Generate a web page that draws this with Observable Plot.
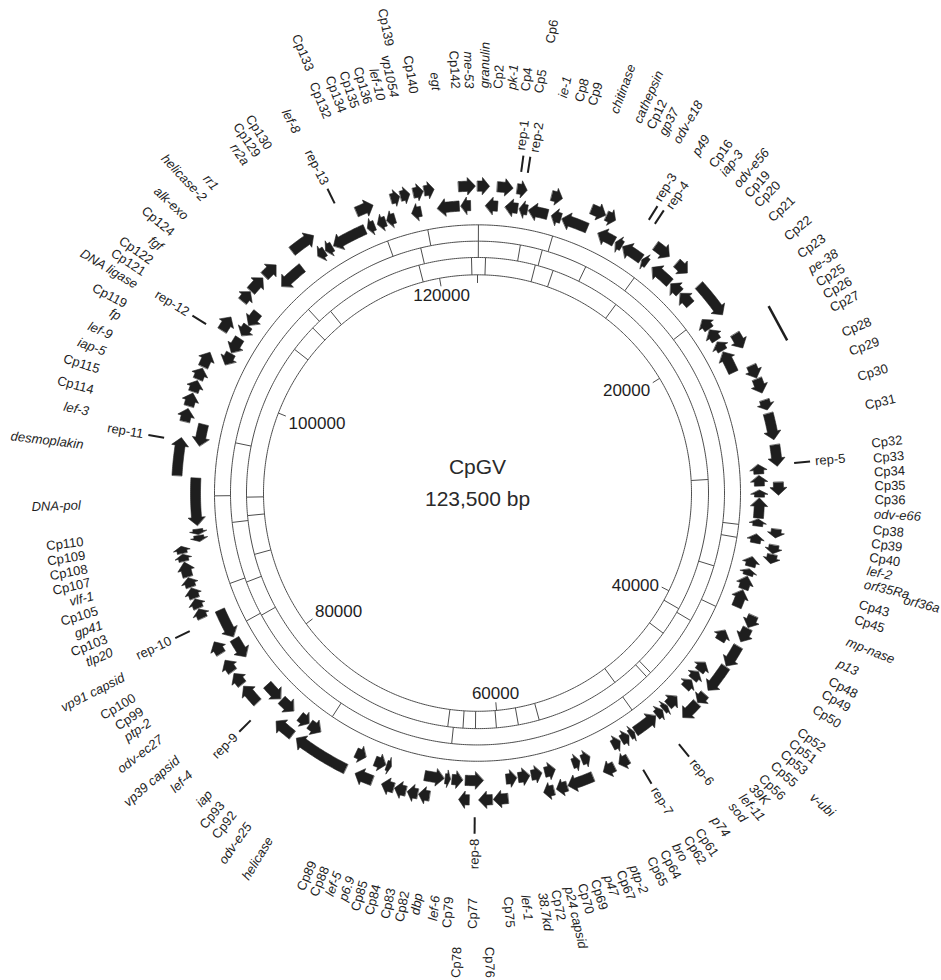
<!DOCTYPE html>
<html>
<head>
<meta charset="utf-8">
<script src="https://cdn.jsdelivr.net/npm/d3@7"></script>
<script src="https://cdn.jsdelivr.net/npm/@observablehq/plot@0.6"></script>
<style>
  body { margin: 0; background: #fff; }
  #chart svg { display: block; }
</style>
</head>
<body>
<div id="chart"></div>
<script>
// ---- Genome map data (positions in bp) ----
const genomeLength = 123500;
const centerTitle = "CpGV";
const centerSubtitle = "123,500 bp";

// [name, start, end, strand]  strand 1 = clockwise, -1 = counter-clockwise
const genes = [
  ["granulin",1,790,1], ["Cp2",549,1407,-1], ["pk-1",1304,2333,1], ["Cp4",1921,2813,-1],
  ["Cp5",2607,3259,1], ["Cp6",2916,3499,-1], ["ie-1",3568,4940,-1], ["Cp8",4906,5626,1],
  ["Cp9",5215,5901,-1], ["chitinase",5969,7856,-1], ["cathepsin",7650,8645,1], ["Cp12",8714,9366,1],
  ["gp37",8679,9949,-1], ["odv-e18",10052,10566,-1], ["p49",10635,12179,-1], ["Cp16",12247,12693,-1],
  ["iap-3",12453,13585,1], ["odv-e56",13139,14752,-1], ["Cp19",14237,15163,1], ["Cp20",14854,15712,-1],
  ["Cp21",15781,16810,-1], ["Cp22",16261,18697,1], ["Cp23",18148,18937,-1], ["pe-38",19006,19863,-1],
  ["Cp25",20000,20687,-1], ["Cp26",20172,21201,1], ["Cp27",20789,22368,-1], ["Cp28",22470,23328,1],
  ["Cp29",23397,24357,1], ["Cp30",24838,25489,1], ["Cp31",25730,27445,1], ["Cp32",27788,29160,1],
  ["Cp33",28920,29572,-1], ["Cp34",29675,30395,-1], ["Cp35",30189,31013,1], ["Cp36",30670,31150,-1],
  ["odv-e66",31218,32591,-1], ["Cp38",32659,33140,-1], ["Cp39",33208,33757,1], ["Cp40",33688,34306,-1],
  ["lef-2",34237,34787,1], ["orf35Ra",34855,35438,1], ["Cp43",36125,36570,-1], ["orf36a",35267,35953,-1],
  ["Cp45",36640,37565,-1], ["mp-nase",37633,38869,-1], ["p13",38971,39795,1], ["Cp48",39864,40824,1],
  ["Cp49",40653,41442,-1], ["Cp50",41167,42643,1], ["Cp51",42711,44598,1], ["Cp52",43260,43980,-1],
  ["Cp53",44049,44701,-1], ["v-ubi",44804,45490,-1], ["Cp55",44941,45627,1], ["Cp56",45696,47000,1],
  ["39K",46313,47171,-1], ["lef-11",47239,47617,-1], ["sod",47685,48234,-1], ["p74",48303,50087,-1],
  ["Cp61",50155,50533,-1], ["Cp62",50601,51218,-1], ["bro",51321,51939,-1], ["Cp64",51459,52145,1],
  ["Cp65",52488,53277,1], ["ptp-2",53689,54306,-1], ["Cp67",54444,54993,-1], ["p47",54032,55747,1],
  ["Cp69",55816,56536,1], ["Cp70",56262,57017,-1], ["p24 capsid",56708,57394,1], ["Cp72",57223,57977,-1],
  ["38.7kd",58080,58904,-1], ["lef-1",59006,59761,-1], ["Cp75",59761,60722,1], ["Cp76",60790,61682,1],
  ["Cp77",61339,62609,-1], ["Cp78",62300,62986,1], ["Cp79",62780,63535,-1], ["lef-6",63638,64015,-1],
  ["dbp",64084,65456,-1], ["Cp82",64907,65627,1], ["Cp83",65696,66382,1], ["Cp84",66485,67240,1],
  ["Cp85",67308,68132,1], ["p6.9",67857,68200,-1], ["lef-5",68269,69058,-1], ["Cp88",68782,69984,1],
  ["Cp89",69744,70499,-1], ["helicase",70670,74444,1], ["odv-e25",73346,74271,-1], ["Cp92",74340,75130,-1],
  ["Cp93",74787,76159,1], ["iap",75714,76845,-1], ["lef-4",76948,78286,-1], ["vp39 capsid",77875,79247,1],
  ["odv-ec27",79418,80276,1], ["ptp-2",80447,81305,1], ["Cp99",80722,82163,-1], ["Cp100",81820,82677,1],
  ["vp91 capsid",82334,84393,-1], ["tlp20",84393,85008,1], ["Cp103",85079,85696,1], ["gp41",85765,86451,1],
  ["Cp105",86520,87137,1], ["vlf-1",87206,88166,1], ["Cp107",88235,88681,1], ["Cp108",88750,89196,1],
  ["Cp109",89299,89710,-1], ["Cp110",89779,90156,-1], ["DNA-pol",90396,93655,-1], ["desmoplakin",93758,96194,1],
  ["lef-3",95851,97361,-1], ["Cp114",97258,98116,1], ["Cp115",98287,99144,1], ["iap-5",99247,100002,1],
  ["lef-9",100105,100860,1], ["fp",100963,101992,1], ["Cp119",101717,102575,-1], ["DNA ligase",102643,103775,-1],
  ["Cp121",103604,104633,1], ["Cp122",104016,104805,-1], ["fgf",104873,105937,-1], ["Cp124",105902,106692,1],
  ["alk-exo",106760,107893,1], ["helicase-2",108064,109093,1], ["rr1",108407,110328,-1], ["rr2a",110465,112181,1],
  ["Cp129",111666,112250,-1], ["Cp130",112318,112867,-1], ["lef-8",112970,115440,-1], ["Cp132",115611,116160,-1],
  ["Cp133",115371,116537,1], ["Cp134",116366,116983,-1], ["Cp135",117052,117670,-1], ["Cp136",117773,118356,1],
  ["lef-10",118424,119042,1], ["vp1054",118870,119556,-1], ["Cp139",119282,119934,1], ["Cp140",120003,120655,1],
  ["egt",120689,122233,-1], ["Cp142",122336,123022,-1], ["me-53",122267,123363,1]
];

// names whose labels sit on the second, outer label ring
const outerTierLabels = ["Cp6", "orf36a", "v-ubi", "Cp76", "Cp78", "Cp133", "Cp139"];

// repeat regions [name, position]
const repeats = [
  ["rep-1",2710], ["rep-2",3122], ["rep-3",11184], ["rep-4",11630], ["rep-5",29057],
  ["rep-6",48269], ["rep-7",50979], ["rep-8",61922], ["rep-9",77360], ["rep-10",83981],
  ["rep-11",95988], ["rep-12",103398], ["rep-13",114342]
];

// an unlabelled marked stretch [start, end]
const markedRegion = [19830, 22020];

// block boundaries in the three comparison bands (inner, middle, outer)
const band1Breaks = [686, 4974, 6553, 12625, 29743, 40961, 43397, 49230, 56433, 58252, 60138,
  61922, 62986, 64290, 87446, 90739, 92283, 105525, 107892, 109951, 118459, 122987];
const band2Breaks = [69, 3431, 5215, 8920, 36639, 41304, 46485, 46931, 63809, 82677, 85525,
  90328, 96571, 108681, 118939];
const band3Breaks = [69, 5695, 12556, 18011, 33174, 34134, 39452, 49401, 73243, 82849, 85868,
  92420, 116640, 119761];

const tickValues = [0, 20000, 40000, 60000, 80000, 100000, 120000];
const tickLabels = ["", "20000", "40000", "60000", "80000", "100000", "120000"];

// ---- Geometry ----
const W = 941, H = 980;
const xDomain = [-477, 464], yDomain = [-483, 478];
const ringRadii = [214, 231, 247, 263];
const trackRadius = {1: 301, "-1": 282};
const labelRadius = {1: 397, 2: 447};
const repInner = 318, repOuter = 334, repLabelR = 339;
const labelSize = 13;
const font = "'Liberation Sans', Arial, Helvetica, sans-serif";

const rad = d => d * Math.PI / 180;
const angleOf = bp => bp / genomeLength * 360;
const px = (r, a) => r * Math.sin(rad(a));
const py = (r, a) => -r * Math.cos(rad(a));
const norm = a => ((a % 360) + 360) % 360;

// text measuring, used to keep radial labels inside the frame
const measureCtx = document.createElement("canvas").getContext("2d");
function textWidth(s, italic) {
  measureCtx.font = `${italic ? "italic " : ""}${labelSize}px ${font}`;
  return measureCtx.measureText(s).width;
}
function maxReach(a) {
  const s = Math.sin(rad(a)), c = -Math.cos(rad(a));
  const lim = [];
  if (s > 1e-6) lim.push((xDomain[1] - 2) / s);
  if (s < -1e-6) lim.push((-xDomain[0] - 2) / -s);
  if (c > 1e-6) lim.push((yDomain[1] - 2) / c);
  if (c < -1e-6) lim.push((-yDomain[0] - 2) / -c);
  return Math.min(...lim);
}

// circles of the comparison bands
const ringPts = ringRadii.flatMap((r, k) =>
  d3.range(0, 360, 0.5).map(a => ({ring: k, x: px(r, a), y: py(r, a)})));

// band dividers
const dividers = [band1Breaks, band2Breaks, band3Breaks].flatMap((arr, k) => arr.map(bp => {
  const a = angleOf(bp);
  return {x1: px(ringRadii[k], a), y1: py(ringRadii[k], a), x2: px(ringRadii[k + 1], a), y2: py(ringRadii[k + 1], a)};
}));

// scale ticks (pointing inward from the inner circle)
const ticks = tickValues.map((v, i) => {
  const a = angleOf(v);
  const s = Math.sin(rad(a)), c = Math.cos(rad(a));
  return {
    label: tickLabels[i], a,
    x1: px(ringRadii[0], a), y1: py(ringRadii[0], a), x2: px(ringRadii[0] - 8, a), y2: py(ringRadii[0] - 8, a),
    lx: px(ringRadii[0] - 11, a), ly: py(ringRadii[0] - 11, a),
    ta: s > 0.5 ? "end" : s < -0.5 ? "start" : "middle",
    la: c > 0.3 ? "top" : c < -0.5 ? "bottom" : "middle"
  };
});

// gene arrows as closed polygons
const arrowPts = [];
genes.forEach(([name, start, end, strand], gi) => {
  const rc = trackRadius[strand];
  const a0 = angleOf(start), a1 = angleOf(end);
  const len = a1 - a0;
  const head = Math.min(8 / rc * 180 / Math.PI, len * 0.6);
  const bw = 5, hw = 8.5;
  const pts = [];
  const arc = (r, from, to) => {
    const n = Math.max(1, Math.ceil(Math.abs(to - from) / 0.4));
    for (let i = 0; i <= n; i++) { const a = from + (to - from) * i / n; pts.push([r, a]); }
  };
  if (strand > 0) {
    const b = a1 - head;
    arc(rc + bw, a0, b);
    pts.push([rc + hw, b], [rc, a1], [rc - hw, b]);
    arc(rc - bw, b, a0);
  } else {
    const b = a0 + head;
    pts.push([rc, a0], [rc + hw, b]);
    arc(rc + bw, b, a1);
    arc(rc - bw, a1, b);
    pts.push([rc - hw, b]);
  }
  pts.forEach(([r, a]) => arrowPts.push({id: gi, x: px(r, a), y: py(r, a)}));
});

// label layout: spread labels around the ring keeping a minimum angular gap
function isotonicSpread(targets, gap) {
  const blocks = [];
  targets.forEach((t, i) => {
    blocks.push({sum: t - i * gap, n: 1});
    while (blocks.length > 1) {
      const b = blocks[blocks.length - 1], a = blocks[blocks.length - 2];
      if (a.sum / a.n <= b.sum / b.n) break;
      a.sum += b.sum; a.n += b.n; blocks.pop();
    }
  });
  const out = [];
  for (const b of blocks) for (let k = 0; k < b.n; k++) out.push(b.sum / b.n + out.length * gap);
  return out;
}
function spreadCircular(items, gap) {
  if (!items.length) return;
  const sorted = items.slice().sort((a, b) => a.mid - b.mid);
  let cut = 0, best = -1;
  for (let i = 0; i < sorted.length; i++) {
    const next = i + 1 < sorted.length ? sorted[i + 1].mid : sorted[0].mid + 360;
    if (next - sorted[i].mid > best) { best = next - sorted[i].mid; cut = (i + 1) % sorted.length; }
  }
  const seq = sorted.slice(cut).concat(sorted.slice(0, cut));
  const base = seq[0].mid;
  const pos = isotonicSpread(seq.map(d => d.mid < base ? d.mid + 360 : d.mid), gap);
  seq.forEach((d, i) => d.angle = norm(pos[i]));
}

const geneLabels = genes.map(([name, start, end]) => ({
  name,
  mid: angleOf((start + end) / 2),
  tier: outerTierLabels.includes(name) ? 2 : 1,
  italic: !/^Cp\d+$/.test(name)
}));
spreadCircular(geneLabels.filter(d => d.tier === 1), 1.95);
spreadCircular(geneLabels.filter(d => d.tier === 2), 1.95);

function placeRadial(d, r) {
  const a = d.angle;
  const right = a <= 180;
  const rr = Math.min(r, maxReach(a) - textWidth(d.name, d.italic));
  d.x = px(rr, a); d.y = py(rr, a);
  d.rot = right ? a - 90 : a - 270;
  d.anchor = right ? "start" : "end";
  return d;
}
geneLabels.forEach(d => placeRadial(d, labelRadius[d.tier]));

const repItems = repeats.map(([name, pos]) => {
  const a = angleOf(pos);
  return {name, mid: a, italic: false, x1: px(repInner, a), y1: py(repInner, a), x2: px(repOuter, a), y2: py(repOuter, a)};
});
spreadCircular(repItems, 2.3);
repItems.forEach(d => placeRadial(d, repLabelR));

const regionA0 = angleOf(markedRegion[0]), regionA1 = angleOf(markedRegion[1]);
const regionLine = [{x1: px(344, regionA0), y1: py(344, regionA0), x2: px(344, regionA1), y2: py(344, regionA1)}];

const ink = "#1e1e1e";
const lineInk = "#4d4d4d";

const labelMarks = [];
for (const side of ["start", "end"]) {
  for (const italic of [false, true]) {
    labelMarks.push(Plot.text(geneLabels.filter(d => d.anchor === side && d.italic === italic), {
      x: "x", y: "y", text: "name", rotate: "rot",
      textAnchor: side, lineAnchor: "middle",
      fontSize: labelSize, fontStyle: italic ? "italic" : "normal", fill: ink
    }));
  }
  labelMarks.push(Plot.text(repItems.filter(d => d.anchor === side), {
    x: "x", y: "y", text: "name", rotate: "rot",
    textAnchor: side, lineAnchor: "middle", fontSize: labelSize, fill: ink
  }));
}

const tickLabelMarks = d3.groups(ticks.filter(t => t.label), t => t.ta + "|" + t.la).map(([key, rows]) => {
  const [ta, la] = key.split("|");
  return Plot.text(rows, {x: "lx", y: "ly", text: "label", textAnchor: ta, lineAnchor: la, fontSize: 17, fill: ink});
});

const chart = Plot.plot({
  width: W,
  height: H,
  margin: 0,
  x: {domain: xDomain, range: [0, W], axis: null},
  y: {domain: yDomain, range: [0, H], axis: null},
  style: {background: "#fff", fontFamily: font},
  marks: [
    Plot.line(ringPts, {x: "x", y: "y", z: "ring", curve: "linear-closed", stroke: lineInk, strokeWidth: 1, fill: "none"}),
    Plot.link(dividers, {x1: "x1", y1: "y1", x2: "x2", y2: "y2", stroke: lineInk, strokeWidth: 1}),
    Plot.link(ticks, {x1: "x1", y1: "y1", x2: "x2", y2: "y2", stroke: lineInk, strokeWidth: 1}),
    ...tickLabelMarks,
    Plot.line(arrowPts, {x: "x", y: "y", z: "id", curve: "linear-closed", fill: ink, stroke: ink, strokeWidth: 0.6}),
    Plot.link(repItems, {x1: "x1", y1: "y1", x2: "x2", y2: "y2", stroke: ink, strokeWidth: 2}),
    Plot.link(regionLine, {x1: "x1", y1: "y1", x2: "x2", y2: "y2", stroke: ink, strokeWidth: 2.5}),
    ...labelMarks,
    Plot.text([centerTitle], {x: 0, y: 0, text: d => d, dy: -26, fontSize: 21, fill: "#2a2a2a", lineAnchor: "middle"}),
    Plot.text([centerSubtitle], {x: 0, y: 0, text: d => d, dy: 6, fontSize: 21, fill: "#2a2a2a", lineAnchor: "middle"})
  ]
});

document.getElementById("chart").appendChild(chart);
</script>
</body>
</html>
